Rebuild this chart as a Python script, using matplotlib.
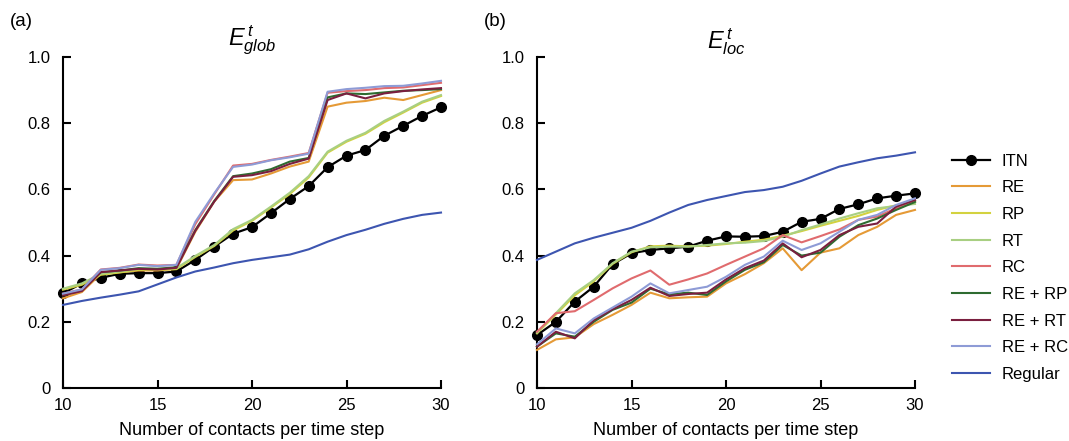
import matplotlib
matplotlib.use("Agg")
import matplotlib.pyplot as plt
import numpy as np

plt.rcParams['font.family'] = ['Liberation Sans', 'DejaVu Sans']
plt.rcParams['mathtext.fontset'] = 'custom'
plt.rcParams['mathtext.it'] = 'Liberation Sans:italic'
plt.rcParams['mathtext.rm'] = 'Liberation Sans'

contacts = list(range(10, 31))
series_names = ["ITN", "RE", "RP", "RT", "RC", "RE + RP", "RE + RT", "RE + RC", "Regular"]
colors = ["#000000", "#e59a36", "#d3d23f", "#a8cf82", "#e06b6e", "#2e6b30", "#7a1f3f", "#8e9bd6", "#3d55b0"]

# Panel (a) E_glob
itn_glob = [0.286, 0.316, 0.333, 0.345, 0.347, 0.347, 0.352, 0.387, 0.427, 0.466, 0.486,
            0.528, 0.571, 0.610, 0.667, 0.702, 0.719, 0.762, 0.792, 0.822, 0.848]
re_glob = [0.271, 0.290, 0.345, 0.350, 0.355, 0.355, 0.360, 0.472, 0.563, 0.628, 0.630,
           0.648, 0.669, 0.684, 0.850, 0.862, 0.867, 0.877, 0.870, 0.885, 0.900]
rp_glob = [0.297, 0.312, 0.342, 0.349, 0.357, 0.357, 0.359, 0.396, 0.429, 0.476, 0.505,
           0.545, 0.586, 0.636, 0.711, 0.744, 0.768, 0.803, 0.832, 0.862, 0.882]
rt_glob = [0.300, 0.316, 0.345, 0.352, 0.360, 0.360, 0.362, 0.399, 0.432, 0.480, 0.508,
           0.548, 0.590, 0.640, 0.714, 0.747, 0.771, 0.807, 0.835, 0.865, 0.885]
rc_glob = [0.285, 0.298, 0.358, 0.363, 0.373, 0.370, 0.372, 0.495, 0.585, 0.672, 0.677,
           0.689, 0.699, 0.710, 0.892, 0.897, 0.900, 0.906, 0.908, 0.915, 0.922]
rerp_glob = [0.280, 0.295, 0.350, 0.355, 0.362, 0.360, 0.365, 0.477, 0.565, 0.640, 0.648,
             0.661, 0.684, 0.695, 0.878, 0.890, 0.888, 0.893, 0.898, 0.900, 0.903]
rert_glob = [0.280, 0.293, 0.350, 0.355, 0.360, 0.358, 0.363, 0.475, 0.563, 0.638, 0.643,
             0.655, 0.677, 0.693, 0.870, 0.890, 0.875, 0.890, 0.897, 0.902, 0.906]
rerc_glob = [0.285, 0.298, 0.357, 0.362, 0.372, 0.368, 0.372, 0.502, 0.588, 0.668, 0.675,
             0.688, 0.697, 0.708, 0.895, 0.903, 0.907, 0.912, 0.913, 0.920, 0.928]
regular_glob = [0.251, 0.263, 0.273, 0.282, 0.292, 0.313, 0.334, 0.352, 0.364, 0.377, 0.387,
                0.395, 0.403, 0.419, 0.442, 0.462, 0.478, 0.496, 0.511, 0.523, 0.530]

# Panel (b) E_loc
itn_loc = [0.160, 0.200, 0.261, 0.306, 0.374, 0.407, 0.417, 0.422, 0.427, 0.445, 0.458,
           0.457, 0.459, 0.472, 0.502, 0.511, 0.541, 0.555, 0.573, 0.581, 0.588]
re_loc = [0.115, 0.147, 0.153, 0.193, 0.221, 0.251, 0.288, 0.271, 0.274, 0.276, 0.316,
          0.344, 0.377, 0.422, 0.356, 0.409, 0.422, 0.462, 0.487, 0.523, 0.538]
rp_loc = [0.165, 0.222, 0.280, 0.322, 0.375, 0.410, 0.428, 0.430, 0.428, 0.430, 0.435,
          0.442, 0.448, 0.460, 0.474, 0.490, 0.505, 0.520, 0.538, 0.552, 0.565]
rt_loc = [0.167, 0.226, 0.286, 0.326, 0.377, 0.412, 0.425, 0.427, 0.427, 0.432, 0.437,
          0.439, 0.444, 0.457, 0.477, 0.494, 0.512, 0.528, 0.543, 0.550, 0.556]
rc_loc = [0.170, 0.226, 0.232, 0.266, 0.301, 0.331, 0.355, 0.312, 0.328, 0.346, 0.372,
          0.397, 0.422, 0.462, 0.440, 0.459, 0.479, 0.508, 0.518, 0.543, 0.566]
rerp_loc = [0.125, 0.165, 0.155, 0.200, 0.236, 0.258, 0.300, 0.283, 0.288, 0.281, 0.322,
            0.357, 0.380, 0.432, 0.400, 0.409, 0.457, 0.492, 0.512, 0.538, 0.562]
rert_loc = [0.125, 0.170, 0.150, 0.205, 0.238, 0.266, 0.303, 0.278, 0.284, 0.288, 0.328,
            0.362, 0.385, 0.437, 0.395, 0.417, 0.462, 0.487, 0.497, 0.548, 0.568]
rerc_loc = [0.132, 0.180, 0.165, 0.210, 0.243, 0.276, 0.316, 0.286, 0.296, 0.306, 0.336,
            0.372, 0.397, 0.445, 0.417, 0.437, 0.472, 0.508, 0.523, 0.553, 0.573]
regular_loc = [0.387, 0.412, 0.437, 0.454, 0.469, 0.484, 0.505, 0.530, 0.553, 0.568, 0.580,
               0.592, 0.598, 0.608, 0.626, 0.648, 0.669, 0.682, 0.694, 0.702, 0.712]

glob_series = [itn_glob, re_glob, rp_glob, rt_glob, rc_glob, rerp_glob, rert_glob, rerc_glob, regular_glob]
loc_series = [itn_loc, re_loc, rp_loc, rt_loc, rc_loc, rerp_loc, rert_loc, rerc_loc, regular_loc]

xticks = [10, 15, 20, 25, 30]
yticks = [0, 0.2, 0.4, 0.6, 0.8, 1.0]
ytick_labels = ["0", "0.2", "0.4", "0.6", "0.8", "1.0"]

fig = plt.figure(figsize=(10.69, 4.41), dpi=100)
ax1 = fig.add_axes([63 / 1069, 53 / 441, 378 / 1069, 331 / 441])
ax2 = fig.add_axes([537 / 1069, 53 / 441, 378 / 1069, 331 / 441])

handles = []
for ax, data, title in [(ax1, glob_series, r"$E^{\,t}_{glob}$"), (ax2, loc_series, r"$E^{\,t}_{loc}$")]:
    for i, (name, vals, col) in enumerate(zip(series_names, data, colors)):
        if name == "ITN":
            h, = ax.plot(contacts, vals, color=col, lw=1.6, marker='o', ms=7, label=name, zorder=2,
                         clip_on=False)
        else:
            h, = ax.plot(contacts, vals, color=col, lw=1.5, label=name, zorder=3, clip_on=False)
        if ax is ax1:
            handles.append(h)
    ax.set_xlim(10, 30)
    ax.set_ylim(0, 1.0)
    ax.set_xticks(xticks)
    ax.set_yticks(yticks)
    ax.set_yticklabels(ytick_labels)
    ax.spines['top'].set_visible(False)
    ax.spines['right'].set_visible(False)
    for s in ['left', 'bottom']:
        ax.spines[s].set_linewidth(1.5)
    ax.tick_params(direction='in', length=6, width=1.5, labelsize=12)
    ax.tick_params(axis='x', pad=7)
    ax.tick_params(axis='y', pad=9)
    ax.set_xlabel("Number of contacts per time step", fontsize=13, labelpad=7)
    ax.set_title(title, fontsize=17, pad=-7)

fig.text(10 / 1069, 1 - 21 / 441, "(a)", fontsize=13.5, va='center', ha='left')
fig.text(484 / 1069, 1 - 21 / 441, "(b)", fontsize=13.5, va='center', ha='left')

fig.legend(handles, series_names, loc='upper left', bbox_to_anchor=(945 / 1069, 1 - 147 / 441),
           frameon=False, fontsize=12, handlelength=2.3, handletextpad=0.7, labelspacing=0.7,
           borderaxespad=0)

fig.savefig("out.png", dpi=100)
